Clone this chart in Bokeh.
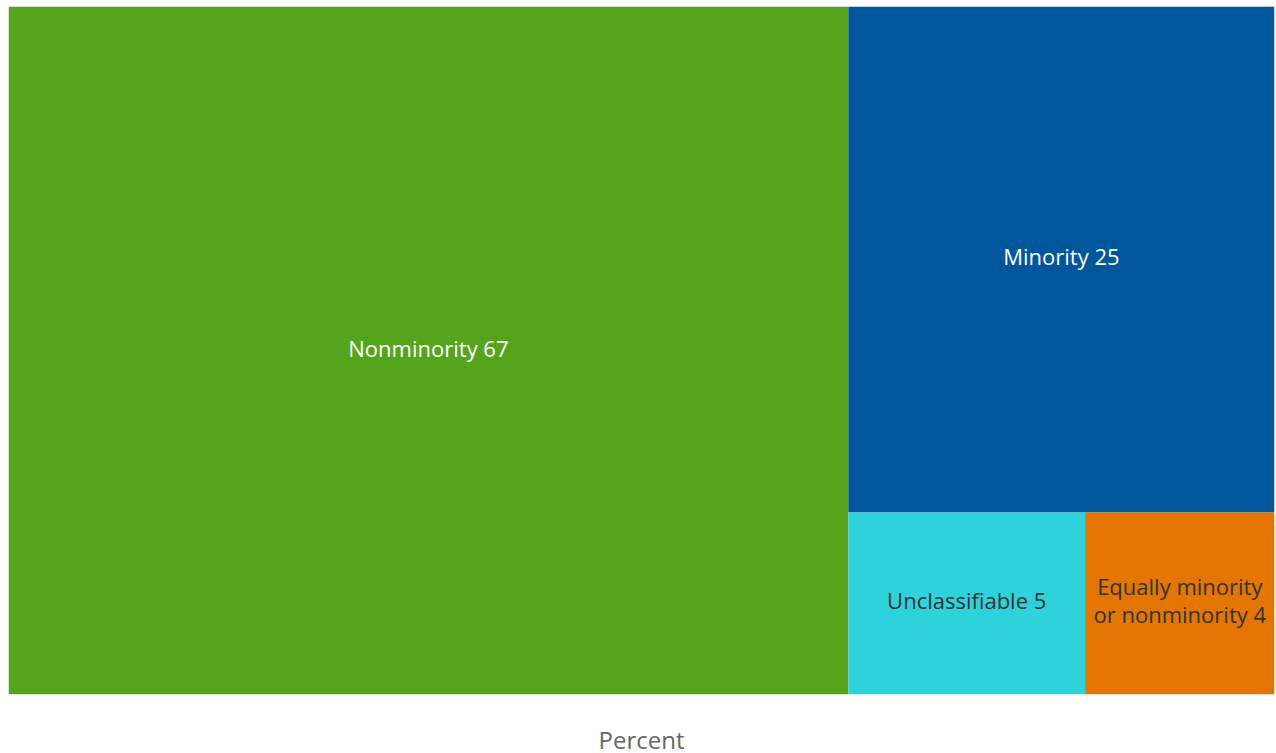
from bokeh.plotting import figure
from bokeh.models import ColumnDataSource, Range1d, FixedTicker
from bokeh.core.properties import value
from bokeh.embed import file_html
from bokeh.resources import INLINE

# ---- data ----
categories = ["Nonminority", "Minority", "Unclassifiable", "Equally minority\nor nonminority"]
percents = [67, 25, 5, 4]
colors = ["#55a51c", "#00579b", "#2dd2db", "#e37500"]
label_colors = ["#ffffff", "#ffffff", "#333333", "#333333"]
axis_title = "Percent"

W, H = 1266, 688  # layout canvas (frame size)


def worst(row, side):
    s = sum(row)
    mx, mn = max(row), min(row)
    return max(side * side * mx / (s * s), (s * s) / (side * side * mn))


def squarify(vals, x, y, w, h):
    """vals already scaled to area; returns list of (x0, y0, x1, y1) in y-down coords"""
    rects = []
    vals = list(vals)
    while vals:
        side = min(w, h)
        row = [vals[0]]
        i = 1
        while i < len(vals) and worst(row + [vals[i]], side) <= worst(row, side):
            row.append(vals[i])
            i += 1
        s = sum(row)
        if w >= h:  # lay row vertically along the left edge
            rw = s / h
            cy = y
            for v in row:
                rh = v / rw
                rects.append((x, cy, x + rw, cy + rh))
                cy += rh
            x += rw
            w -= rw
        else:  # lay row horizontally along the top edge
            rh = s / w
            cx = x
            for v in row:
                cw = v / rh
                rects.append((cx, y, cx + cw, y + rh))
                cx += cw
            y += rh
            h -= rh
        vals = vals[i:]
    return rects


total = float(sum(percents))
areas = [v / total * W * H for v in percents]
rects = squarify(areas, 0, 0, W, H)

src = ColumnDataSource(dict(
    left=[r[0] for r in rects], right=[r[2] for r in rects],
    top=[r[1] for r in rects], bottom=[r[3] for r in rects],
    cx=[(r[0] + r[2]) / 2 for r in rects], cy=[(r[1] + r[3]) / 2 for r in rects],
    color=colors, lcolor=label_colors,
    label=[f"{c} {v}" for c, v in zip(categories, percents)],
))

p = figure(frame_width=W, frame_height=H, output_backend="svg", toolbar_location=None,
           x_range=Range1d(0, W), y_range=Range1d(H, 0),
           min_border_left=8, min_border_right=2, min_border_top=6, min_border_bottom=0)
p.outline_line_color = None
p.grid.visible = False
p.yaxis.visible = False
p.background_fill_color = "white"

p.quad(left="left", right="right", top="top", bottom="bottom", source=src,
       fill_color="color", line_color=None)
p.text(x="cx", y="cy", text="label", source=src, text_color="lcolor",
       text_font=value("Open Sans"), text_font_size="22px", y_offset=-3,
       text_align="center", text_baseline="middle", text_line_height=0.93)

xa = p.xaxis[0]
xa.ticker = FixedTicker(ticks=[])
xa.axis_line_color = None
xa.major_tick_line_color = None
xa.minor_tick_line_color = None
xa.axis_label = axis_title
xa.axis_label_text_font = "Open Sans"
xa.axis_label_text_font_style = "normal"
xa.axis_label_text_font_size = "24px"
xa.axis_label_text_color = "#666666"
xa.axis_label_standoff = 28

open("out.html", "w").write(file_html(p, INLINE))
